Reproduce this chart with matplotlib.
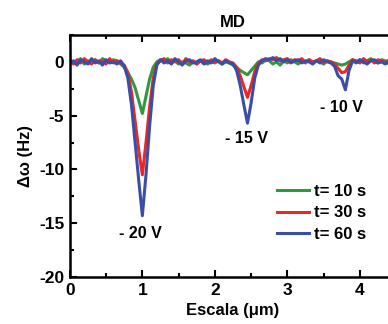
import numpy as np
import matplotlib
matplotlib.use('Agg')
import matplotlib.pyplot as plt
from matplotlib.ticker import MultipleLocator

plt.rcParams['font.family'] = ['Liberation Sans', 'DejaVu Sans']
plt.rcParams['font.weight'] = 'bold'
plt.rcParams['axes.unicode_minus'] = False

# x grid (um), step 0.05
x = np.round(np.arange(0, 4.51, 0.05), 2)

t10 = [0.2, -0.1, 0.1, 0.3, -0.2, 0.1, 0.0, 0.2, -0.1, 0.3, 0.1, 0.0, 0.2,
       0.1, -0.2, -0.5, -1.0, -1.6, -2.4, -3.6, -4.8, -3.2, -1.6, -0.5, 0.0,
       0.2, 0.0, 0.3, -0.1, 0.1, -0.2, 0.0, -0.1, -0.3, 0.0, -0.2, 0.1, -0.1, -0.2, 0.0, -0.1, 0.1, -0.2, 0.0, -0.1,
       -0.3, -0.5, -0.8, -1.0, -1.2, -0.8, -0.4, 0.0,
       -0.1, 0.2, 0.1, -0.2, 0.0, -0.3, 0.1, -0.1, 0.2, 0.0, -0.2, 0.1, 0.0, 0.2, -0.1, 0.1, 0.0, -0.2, 0.1,
       0.0, -0.1, -0.2, -0.3, -0.2, 0.0, 0.2,
       0.0, 0.2, -0.1, 0.1, 0.3, 0.0, -0.1, 0.2, 0.1, -0.2, 0.1, 0.0]

t30 = [0.1, -0.2, 0.2, -0.1, 0.3, 0.0, -0.2, 0.2, -0.1, 0.1, -0.2, 0.3, -0.1, 0.1, -0.1,
       -0.3, -1.0, -2.8, -5.5, -8.2, -10.5, -7.5, -4.2, -1.5, -0.2,
       0.1, 0.3, -0.1, 0.2, 0.0, 0.2, -0.2, 0.3, 0.0, 0.1, -0.2, 0.1, 0.2, -0.1, 0.2, 0.0, 0.1, -0.1, 0.2, 0.0,
       -0.1, -0.5, -1.3, -2.3, -3.3, -2.2, -0.9, -0.1,
       0.2, 0.1, 0.3, 0.2, 0.4, 0.1, 0.2, 0.3, 0.0, 0.2, 0.1, 0.3, -0.1, 0.2, 0.0, 0.1, 0.3, -0.1, 0.1,
       0.0, -0.2, -0.6, -1.0, -0.9, -0.3, 0.2,
       0.1, -0.1, 0.3, 0.0, 0.2, -0.1, 0.2, 0.1, -0.1, 0.2, 0.0, 0.1]

t60 = [-0.2, 0.1, -0.3, 0.2, 0.0, -0.2, 0.3, -0.1, 0.1, -0.3, 0.2, -0.1, 0.0, -0.2, 0.1,
       -0.4, -1.5, -4.0, -7.5, -11.0, -14.3, -10.5, -6.0, -2.2, -0.3,
       0.2, -0.1, 0.1, -0.2, 0.3, 0.0, -0.3, 0.1, 0.2, -0.1, 0.0, 0.2, -0.2, 0.1, -0.1, 0.3, 0.0, -0.2, 0.1, -0.1,
       -0.2, -0.8, -2.2, -4.0, -5.7, -3.8, -1.5, -0.3,
       0.1, 0.3, 0.2, 0.4, 0.1, 0.3, 0.0, 0.2, -0.1, 0.1, 0.2, -0.1, 0.1, 0.0, -0.2, 0.1, -0.1, 0.2, 0.0,
       -0.1, -0.4, -1.3, -1.6, -2.6, -0.8, 0.1,
       -0.1, 0.2, 0.0, -0.2, 0.1, 0.2, -0.1, 0.0, -0.2, 0.1, 0.2, -0.1]

series = [(t10, '#2e9a3c', 't= 10 s'), (t30, '#e8262b', 't= 30 s'), (t60, '#3a4ea6', 't= 60 s')]

peak_labels = ['- 20 V', '- 15 V', '- 10 V']
peak_x = [0.97, 2.44, 3.74]
peak_y = [-16.0, -7.1, -4.2]

fig = plt.figure(figsize=(3.88, 3.24), dpi=100)
ax = fig.add_axes([0.180, 0.145, 0.841, 0.747])

for y, c, lab in series:
    ax.plot(x, y, color=c, lw=2.2, label=lab)

for s, px, py in zip(peak_labels, peak_x, peak_y):
    ax.text(px, py, s, ha='center', va='center', fontsize=11.5, fontweight='bold')

ax.set_xlim(0, 4.5)
ax.set_ylim(-20, 2.5)
ax.xaxis.set_major_locator(MultipleLocator(1))
ax.xaxis.set_minor_locator(MultipleLocator(0.5))
ax.yaxis.set_major_locator(MultipleLocator(5))
ax.yaxis.set_minor_locator(MultipleLocator(2.5))
ax.tick_params(which='both', direction='in', top=True, right=True, width=1.5, labelsize=12.5, pad=4)
ax.tick_params(which='major', length=5)
ax.tick_params(which='minor', length=3)
for sp in ax.spines.values():
    sp.set_linewidth(1.8)
for lbl in ax.get_xticklabels() + ax.get_yticklabels():
    lbl.set_fontweight('bold')

ax.set_title('MD', fontsize=12, fontweight='bold', pad=6)
ax.set_xlabel('Escala (μm)', fontsize=12, fontweight='bold', labelpad=4)
ax.set_ylabel('Δω (Hz)', fontsize=12, fontweight='bold', labelpad=4)

ax.legend(loc='center left', bbox_to_anchor=(0.615, 0.265), frameon=False,
          prop={'size': 12, 'weight': 'bold'}, handlelength=1.9, handletextpad=0.3,
          labelspacing=0.4, borderaxespad=0)

fig.savefig('out.png', dpi=100)
